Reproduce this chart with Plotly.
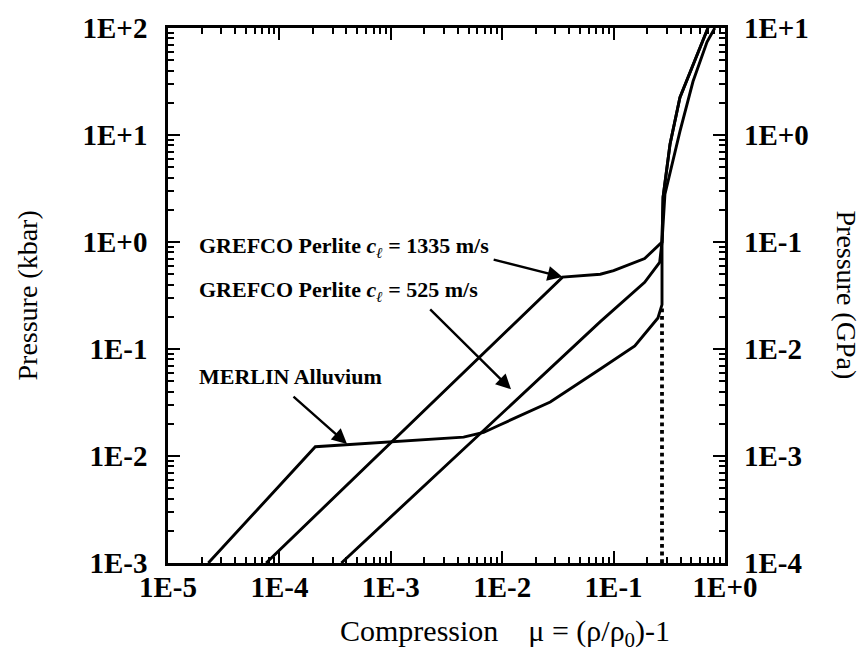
import plotly.graph_objects as go

# ---------------- data ----------------
# MERLIN Alluvium (compression mu, pressure kbar)
merlin_x = [2.3e-5, 2.1e-4, 4.5e-3, 6.8e-3, 9.5e-3, 2.7e-2, 7.6e-2, 0.155, 0.25, 0.272, 0.272,
            0.289, 0.394, 0.516, 0.689, 0.81]
merlin_y = [1e-3, 1.22e-2, 1.5e-2, 1.66e-2, 1.95e-2, 3.2e-2, 6.5e-2, 0.107, 0.195, 0.26, 1.0,
            2.8, 10.8, 31.6, 74.0, 100.0]

# GREFCO Perlite c = 1335 m/s
g1335_x = [7.6e-5, 0.0348, 0.076, 0.10, 0.19, 0.272, 0.278, 0.321, 0.394, 0.561, 0.703]
g1335_y = [1e-3, 0.47, 0.50, 0.54, 0.70, 1.0, 2.63, 8.2, 22.4, 56.0, 100.0]

# GREFCO Perlite c = 525 m/s
g525_x = [3.6e-4, 0.076, 0.19, 0.259, 0.272, 0.278, 0.321, 0.394, 0.561, 0.703]
g525_y = [1e-3, 0.18, 0.42, 0.645, 1.0, 2.63, 8.2, 22.4, 56.0, 100.0]

# dotted reference line
dot_x = [0.272, 0.272]
dot_y = [1e-3, 0.26]

x_tickvals = [1e-5, 1e-4, 1e-3, 1e-2, 1e-1, 1e0]
x_ticktext = ["1E-5", "1E-4", "1E-3", "1E-2", "1E-1", "1E+0"]
y_tickvals = [1e-3, 1e-2, 1e-1, 1e0, 1e1, 1e2]
y_ticktext = ["1E-3", "1E-2", "1E-1", "1E+0", "1E+1", "1E+2"]
y2_tickvals = [1e-4, 1e-3, 1e-2, 1e-1, 1e0, 1e1]
y2_ticktext = ["1E-4", "1E-3", "1E-2", "1E-1", "1E+0", "1E+1"]

x_minor = [m * 10.0 ** e for e in range(-5, 0) for m in range(2, 10)]
y_minor = [m * 10.0 ** e for e in range(-3, 2) for m in range(2, 10)]

FONT = "Liberation Serif"
LW = 2.9
TICKFONT = dict(size=29, family=FONT, color="black", weight="bold")

# plot-area geometry in pixels (used to place titles in paper coordinates)
W, H = 866, 659
ML, MR, MT, MB = 168, 141, 23, 96
PW, PH = W - ML - MR, H - MT - MB


def px_to_paper_x(px):
    return (px - ML) / PW


def px_to_paper_y(py):
    return (H - MB - py) / PH


fig = go.Figure()
for xs, ys in [(merlin_x, merlin_y), (g1335_x, g1335_y), (g525_x, g525_y)]:
    fig.add_trace(go.Scatter(x=xs, y=ys, mode="lines",
                             line=dict(color="black", width=LW), showlegend=False))
fig.add_trace(go.Scatter(x=dot_x, y=dot_y, mode="lines",
                         line=dict(color="black", width=3.8, dash="dot"), showlegend=False))
# invisible trace for the GPa axis
fig.add_trace(go.Scatter(x=[1e-5], y=[1e-4], yaxis="y2", mode="markers",
                         marker=dict(opacity=0), showlegend=False, hoverinfo="skip"))

axis_common = dict(showgrid=False, zeroline=False, showline=True, linecolor="black",
                   linewidth=2.6, ticks="inside", ticklen=12, tickwidth=2,
                   tickcolor="black", mirror="ticks")

fig.update_layout(
    width=W, height=H,
    margin=dict(l=ML, r=MR, t=MT, b=MB),
    paper_bgcolor="white", plot_bgcolor="white",
    font=dict(family=FONT, color="black"),
    xaxis=dict(type="log", range=[-5, 0], tickmode="array", tickvals=x_tickvals,
               ticktext=x_ticktext, tickfont=TICKFONT,
               minor=dict(tickmode="array", tickvals=x_minor, ticks="inside",
                          ticklen=6, tickwidth=2, tickcolor="black"),
               ticklabelstandoff=-4,
               **axis_common),
    yaxis=dict(type="log", range=[-3, 2], tickmode="array", tickvals=y_tickvals,
               ticktext=y_ticktext, tickfont=TICKFONT,
               minor=dict(tickmode="array", tickvals=y_minor, ticks="inside",
                          ticklen=6, tickwidth=2, tickcolor="black"),
               ticklabelstandoff=12,
               **axis_common),
    yaxis2=dict(type="log", range=[-4, 1], overlaying="y", side="right",
                tickmode="array", tickvals=y2_tickvals, ticktext=y2_ticktext,
                tickfont=TICKFONT, ticks="", showline=False,
                showgrid=False, zeroline=False, ticklabelstandoff=18),
)

TITLEFONT = dict(size=28, family=FONT, color="black")
fig.add_annotation(text="Pressure (kbar)", textangle=-90, xref="paper", yref="paper",
                   x=px_to_paper_x(27), y=px_to_paper_y(293), xanchor="center",
                   yanchor="middle", showarrow=False, font=TITLEFONT)
fig.add_annotation(text="Pressure (GPa)", textangle=90, xref="paper", yref="paper",
                   x=px_to_paper_x(846), y=px_to_paper_y(293), xanchor="center",
                   yanchor="middle", showarrow=False, font=TITLEFONT)
fig.add_annotation(text="Compression&nbsp;&nbsp;&nbsp;&nbsp;μ = (ρ/ρ<sub>0</sub>)-1",
                   xref="paper", yref="paper",
                   x=px_to_paper_x(505), y=px_to_paper_y(634), xanchor="center",
                   yanchor="middle", showarrow=False,
                   font=dict(size=30, family=FONT, color="black"))

lab_font = dict(size=22, family=FONT, color="black", weight="bold")
# labels (x, y in log10 data units)
fig.add_annotation(text="GREFCO Perlite <i>c</i><sub><i>ℓ</i></sub> = 1335 m/s",
                   x=-4.74, y=-0.045, xref="x", yref="y", xanchor="left",
                   showarrow=False, font=lab_font)
fig.add_annotation(text="GREFCO Perlite <i>c</i><sub><i>ℓ</i></sub> = 525 m/s",
                   x=-4.74, y=-0.46, xref="x", yref="y", xanchor="left",
                   showarrow=False, font=lab_font)
fig.add_annotation(text="MERLIN Alluvium",
                   x=-4.74, y=-1.256, xref="x", yref="y", xanchor="left",
                   showarrow=False, font=lab_font)
# arrows (head x, head y, tail x, tail y) in log10 units
arrows = [(-1.458, -0.328, -2.09, -0.161),
          (-1.921, -1.377, -2.66, -0.616),
          (-3.393, -1.887, -3.887, -1.432)]
for hx, hy, tx, ty in arrows:
    fig.add_annotation(text="", x=hx, y=hy, ax=tx, ay=ty, xref="x", yref="y",
                       axref="x", ayref="y", showarrow=True, arrowhead=2,
                       arrowsize=1.25, arrowwidth=2.4, arrowcolor="black")

fig.write_html("out.html")
